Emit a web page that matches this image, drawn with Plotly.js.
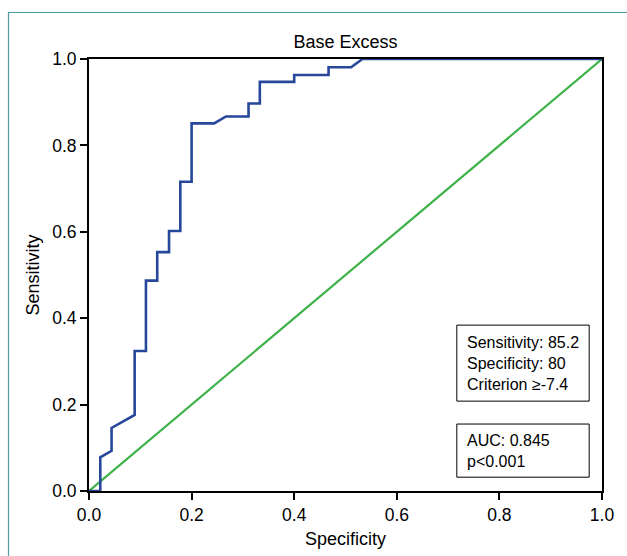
<!DOCTYPE html>
<html>
<head>
<meta charset="utf-8">
<script src="https://cdn.plot.ly/plotly-3.0.1.min.js"></script>
<style>html,body{margin:0;padding:0;background:#fff;}#chart{width:627px;height:556px;}</style>
</head>
<body>
<div id="chart"></div>
<script>
// ROC curve points (x axis labelled "Specificity", as in the source figure)
const rocX = [0, 0.022, 0.022, 0.044, 0.044, 0.089, 0.089, 0.111, 0.111, 0.133, 0.133, 0.156, 0.156, 0.178, 0.178, 0.2, 0.2, 0.244, 0.267, 0.311, 0.311, 0.333, 0.333, 0.4, 0.4, 0.467, 0.467, 0.511, 0.533, 1.0];
const rocY = [0, 0, 0.078, 0.093, 0.146, 0.176, 0.324, 0.324, 0.487, 0.487, 0.553, 0.553, 0.602, 0.602, 0.716, 0.716, 0.851, 0.851, 0.867, 0.867, 0.897, 0.897, 0.947, 0.947, 0.963, 0.963, 0.981, 0.981, 1.0, 1.0];
const refX = [0, 1];
const refY = [0, 1];
const tickVals = [0, 0.2, 0.4, 0.6, 0.8, 1.0];
const tickText = ['0.0', '0.2', '0.4', '0.6', '0.8', '1.0'];
const statsText = 'Sensitivity: 85.2<br>Specificity: 80<br>Criterion ≥-7.4';
const aucText = 'AUC: 0.845<br>p<0.001';
const chartTitle = 'Base Excess';

const font = {family: 'Arial, "Liberation Sans", sans-serif', color: '#000'};

const traces = [
  {x: refX, y: refY, mode: 'lines', line: {color: '#3fb34a', width: 2.2}, hoverinfo: 'skip', cliponaxis: false},
  {x: rocX, y: rocY, mode: 'lines', line: {color: '#26479a', width: 2.6}, hoverinfo: 'skip'}
];

const axisCommon = {
  range: [0, 1], showgrid: false, zeroline: false,
  showline: true, linecolor: '#000', linewidth: 2, mirror: true,
  ticks: 'outside', ticklen: 7, tickwidth: 2, tickcolor: '#000',
  tickvals: tickVals, ticktext: tickText,
  tickfont: Object.assign({size: 17.5}, font),
  automargin: false, fixedrange: true
};

const layout = {
  width: 627, height: 556,
  margin: {l: 89, r: 25, t: 59, b: 65},
  paper_bgcolor: '#fff', plot_bgcolor: '#fff',
  showlegend: false,
  font: font,
  title: {text: chartTitle, font: Object.assign({size: 18}, font), xref: 'paper', x: 0.5, xanchor: 'center', yref: 'container', y: 1 - 42/556, yanchor: 'middle'},
  xaxis: Object.assign({}, axisCommon, {title: {text: 'Specificity', font: Object.assign({size: 18}, font), standoff: 8}}),
  yaxis: Object.assign({}, axisCommon, {title: {text: 'Sensitivity', font: Object.assign({size: 18}, font), standoff: 8}}),
  shapes: [
    {type: 'rect', xref: 'paper', yref: 'paper', x0: (8.5-89)/513, x1: 1.2, y0: -0.3, y1: 1 + (59-12.5)/432, line: {color: '#4f9ba1', width: 1.2}, fillcolor: 'rgba(0,0,0,0)', layer: 'below'},
    {type: 'rect', xref: 'x', yref: 'y', x0: 0.717, x1: 0.975, y0: 0.208, y1: 0.384, line: {color: '#000', width: 1}, fillcolor: '#fff'},
    {type: 'rect', xref: 'x', yref: 'y', x0: 0.717, x1: 0.975, y0: 0.032, y1: 0.155, line: {color: '#000', width: 1}, fillcolor: '#fff'}
  ],
  annotations: [
    {text: statsText, xref: 'x', yref: 'y', x: 0.733, y: 0.296, xanchor: 'left', yanchor: 'middle', align: 'left', showarrow: false, font: Object.assign({size: 16}, font)},
    {text: aucText, xref: 'x', yref: 'y', x: 0.733, y: 0.093, xanchor: 'left', yanchor: 'middle', align: 'left', showarrow: false, font: Object.assign({size: 16}, font)}
  ]
};

Plotly.newPlot('chart', traces, layout, {staticPlot: true, displayModeBar: false});
</script>
</body>
</html>
